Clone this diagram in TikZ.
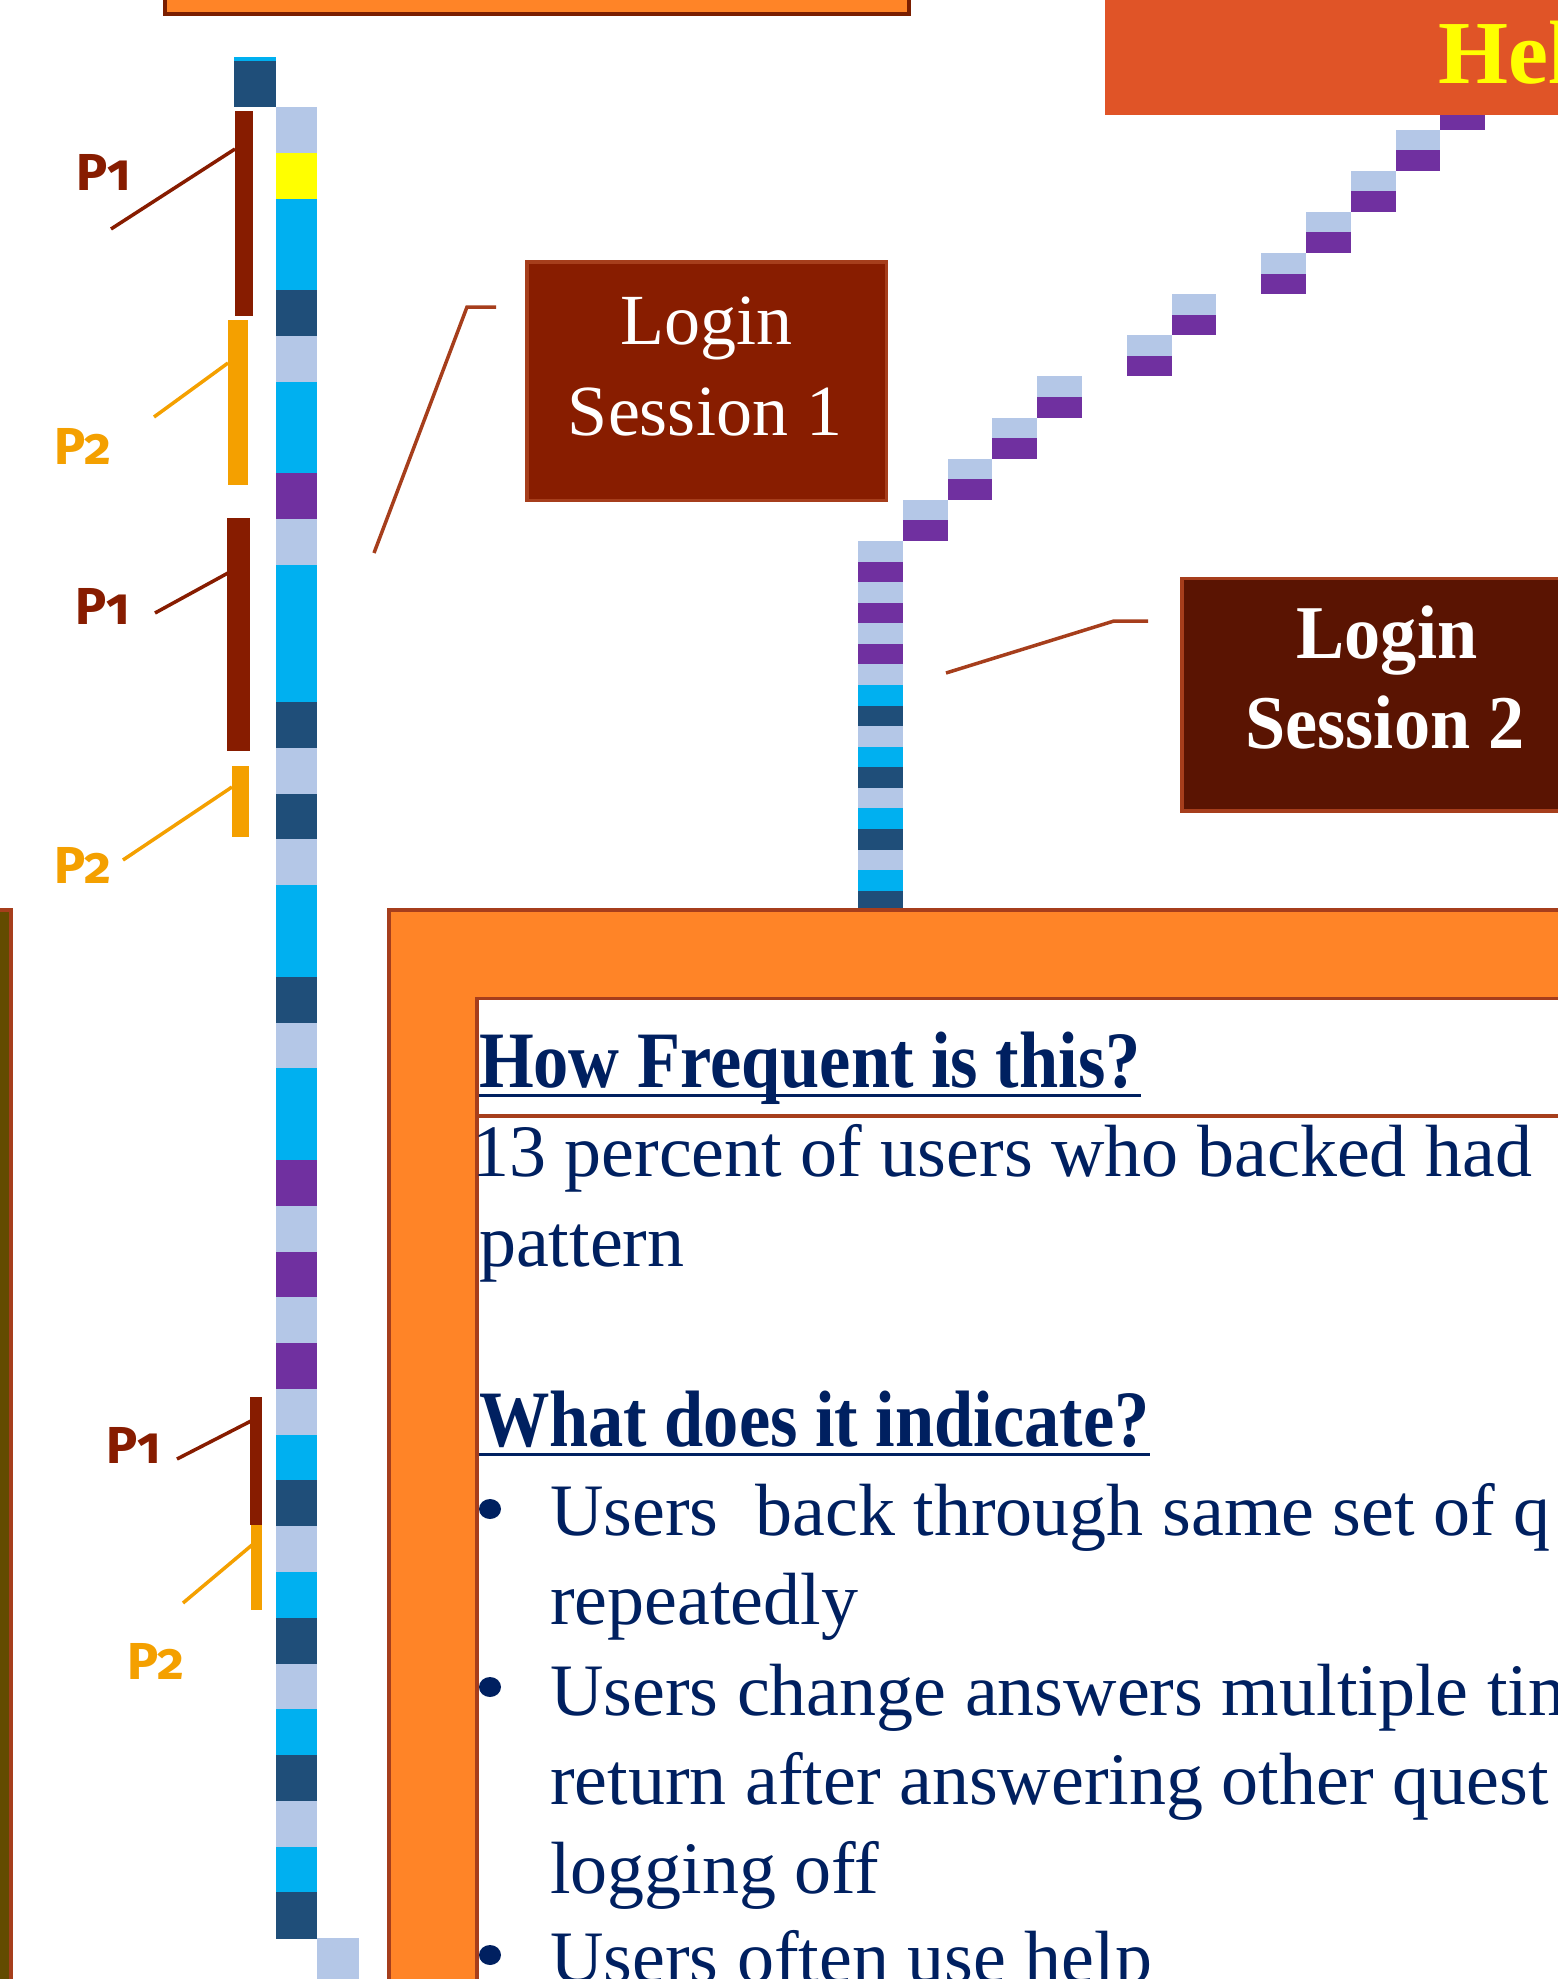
\documentclass[tikz,border=0pt]{standalone}
\usepackage{fontspec}
\usepackage{graphicx}
\setmainfont{Liberation Serif}
\newfontfamily\plabelfont[Numbers=OldStyle]{Fira Sans}
\definecolor{lb}{RGB}{180,199,231}
\definecolor{yl}{RGB}{255,255,0}
\definecolor{cy}{RGB}{0,176,240}
\definecolor{db}{RGB}{31,78,121}
\definecolor{pu}{RGB}{112,48,160}
\definecolor{pone}{RGB}{135,28,0}
\definecolor{ptwo}{RGB}{244,160,0}
\definecolor{orangefill}{RGB}{255,132,39}
\definecolor{rustline}{RGB}{166,62,28}
\definecolor{topborder}{RGB}{122,30,0}
\definecolor{loginone}{RGB}{136,29,0}
\definecolor{logintwo}{RGB}{90,20,2}
\definecolor{helpfill}{RGB}{224,84,39}
\definecolor{olivefill}{RGB}{99,75,0}
\definecolor{navy}{RGB}{0,32,96}
\newcommand{\myBody}{\fontsize{74}{89}\selectfont}
\newcommand{\myHead}{\fontsize{80}{89}\selectfont\bfseries}
\newcommand{\myLogin}{\fontsize{72}{72}\selectfont}
\newcommand{\myLoginB}{\fontsize{76}{76}\selectfont\bfseries}
\newcommand{\myP}{\plabelfont\fontsize{52}{52}\selectfont\bfseries}
\tikzset{
  txt/.style={inner sep=0pt, outer sep=0pt, text=navy, font=\myBody, anchor=base west},
  hd/.style={inner sep=0pt, outer sep=0pt, text=navy, font=\myHead, anchor=base west},
  plab/.style={inner sep=0pt, outer sep=0pt, font=\myP, anchor=base west},
  bar/.style={inner sep=0pt, outer sep=0pt, draw=none, anchor=north west},
  leader/.style={line width=3.5pt},
  callout/.style={line width=3.5pt, draw=rustline},
  bulletdot/.style={fill=navy},
  lbox/.style={inner sep=0pt, outer sep=0pt, anchor=north west, draw=rustline, line width=3.5pt},
}
\begin{document}
\begin{tikzpicture}[x=1pt,y=-1pt]
\useasboundingbox (0,0) rectangle (1558,1979);
\clip (0,0) rectangle (1558,1979);

% top orange box
\draw[draw=topborder, line width=3.5pt, fill=orangefill] (165,-40) rectangle (909,14);

% staircase (behind help box)
\foreach \j/\k in {1/1,2/2,3/3,4/4,5/6,6/7,7/9,8/10,9/11,10/12,11/13,12/14} {
  \fill[fill=lb] ({858+44.8*\k},{541-41.14*\j}) rectangle ++(44.8,20.57);
  \fill[fill=pu] ({858+44.8*\k},{541-41.14*\j+20.57}) rectangle ++(44.8,20.57);
}

% help box
\fill[helpfill] (1105,-10) rectangle (1600,115);
\node[inner sep=0pt, anchor=base west, text=yl, font=\fontsize{90}{90}\selectfont\bfseries] (help) at (1438,83) {Hel};

% column A top cell
\fill[cy] (234,57) rectangle (276,61);
\fill[db] (234,61) rectangle (276,107);

% column B
\foreach \c [count=\i from 0] in {lb,yl,cy,cy,db,lb,cy,cy,pu,lb,cy,cy,cy,db,lb,db,lb,cy,cy,db,lb,cy,cy,pu,lb,pu,lb,pu,lb,cy,db,lb,cy,db,lb,cy,db,lb,cy,db}
  \fill[fill=\c] (276,{107+45.78*\i}) rectangle (317,{107+45.78*(\i+1)+0.3});
\fill[lb] (317,1938) rectangle (359,1990);

% column C (login session 2)
\foreach \c [count=\i from 0] in {lb,pu,lb,pu,lb,pu,lb,cy,db,lb,cy,db,lb,cy,db,lb,cy,db}
  \fill[fill=\c] (858,{541+20.57*\i}) rectangle (903,{541+20.57*(\i+1)+0.3});

% P bars
\node[bar, fill=pone, minimum width=18pt, minimum height=205pt] (p1a) at (235,111) {};
\node[bar, fill=ptwo, minimum width=20pt, minimum height=165pt] (p2a) at (228,320) {};
\node[bar, fill=pone, minimum width=23pt, minimum height=233pt] (p1b) at (227,518) {};
\node[bar, fill=ptwo, minimum width=17pt, minimum height=71pt] (p2b) at (232,766) {};
\node[bar, fill=pone, minimum width=12pt, minimum height=128pt] (p1c) at (250,1397) {};
\node[bar, fill=ptwo, minimum width=11pt, minimum height=85pt] (p2c) at (251,1525) {};

% P labels
\node[plab, text=pone] (t1a) at (76,190) {P1};
\node[plab, text=ptwo] (t2a) at (54,464) {P2};
\node[plab, text=pone] (t1b) at (75,624) {P1};
\node[plab, text=ptwo] (t2b) at (54,883) {P2};
\node[plab, text=pone] (t1c) at (106,1463) {P1};
\node[plab, text=ptwo] (t2c) at (127,1679) {P2};

% leader lines
\coordinate (a1s) at (111,229); \coordinate (a1e) at (235,149);
\coordinate (a2s) at (154,417); \coordinate (a2e) at (228,363);
\coordinate (b1s) at (155,613); \coordinate (b1e) at (228,573);
\coordinate (b2s) at (123,860); \coordinate (b2e) at (232,787);
\coordinate (c1s) at (177,1459); \coordinate (c1e) at (251,1421);
\coordinate (c2s) at (183,1603); \coordinate (c2e) at (252,1545);
\draw[leader, pone] (a1s) -- (a1e);
\draw[leader, ptwo] (a2s) -- (a2e);
\draw[leader, pone] (b1s) -- (b1e);
\draw[leader, ptwo] (b2s) -- (b2e);
\draw[leader, pone] (c1s) -- (c1e);
\draw[leader, ptwo] (c2s) -- (c2e);

% Login Session 1
\node[lbox, fill=loginone, minimum width=359.5pt, minimum height=238.5pt] (login1) at (527,262) {};
\node[inner sep=0pt, anchor=base, text=white, font=\myLogin] (login1a) at (706,344) {Login};
\node[inner sep=0pt, anchor=base, text=white, font=\myLogin] (login1b) at (705,435) {Session 1};
\coordinate (k1s) at (374,553); \coordinate (k1m) at (467,307); \coordinate (k1e) at (496,307);
\draw[callout] (k1s) -- (k1m) -- (k1e);

% Login Session 2
\node[lbox, fill=logintwo, minimum width=408pt, minimum height=232.5pt] (login2) at (1182,578.5) {};
\node[inner sep=0pt, anchor=base, text=white, font=\myLoginB] (login2a) at (1387,658) {\scalebox{0.95}[1]{Login}};
\node[inner sep=0pt, anchor=base, text=white, font=\myLoginB] (login2b) at (1385,748) {\scalebox{0.95}[1]{Session 2}};
\coordinate (k2s) at (946,673); \coordinate (k2m) at (1114,621); \coordinate (k2e) at (1148,621);
\draw[callout] (k2s) -- (k2m) -- (k2e);

% olive box at left
\draw[draw=rustline, line width=4pt, fill=olivefill] (-40,909.5) rectangle (10.5,2050);

% orange frame
\draw[draw=rustline, line width=4pt, fill=orangefill] (389,909.5) rectangle (1640,2060);
\draw[draw=rustline, line width=3.5pt, fill=white] (477,998.5) rectangle (1640,2060);
\draw[draw=rustline, line width=3.5pt] (477,1116) -- (1640,1116);

% texts
\node[hd] (h1) at (479,1087) {\scalebox{0.88}[1]{How Frequent is this?}};
\draw[navy, line width=3pt] ([yshift=-8pt]h1.base west) -- ([yshift=-8pt]h1.base east);
\node[txt] (q1) at (472,1176) {13 percent of users who backed had};
\node[txt] (q2) at (479,1266) {pattern};
\node[hd] (h2) at (479,1446) {\scalebox{0.88}[1]{What does it indicate?}};
\draw[navy, line width=3pt] ([yshift=-8pt]h2.base west) -- ([yshift=-8pt]h2.base east);

\fill[bulletdot] (490,1509) ellipse (11 and 10);
\fill[bulletdot] (490,1687) ellipse (11 and 10);
\fill[bulletdot] (490,1955) ellipse (11 and 10);
\node[txt] (i1a) at (550,1535) {Users\ \ back through same set of q};
\node[txt] (i1b) at (550,1624) {repeatedly};
\node[txt] (i2a) at (550,1715) {Users change answers multiple tim};
\node[txt] (i2b) at (550,1804) {return after answering other quest};
\node[txt] (i2c) at (550,1893) {logging off};
\node[txt] (i3a) at (550,1982) {Users often use help};
\end{tikzpicture}
\end{document}
